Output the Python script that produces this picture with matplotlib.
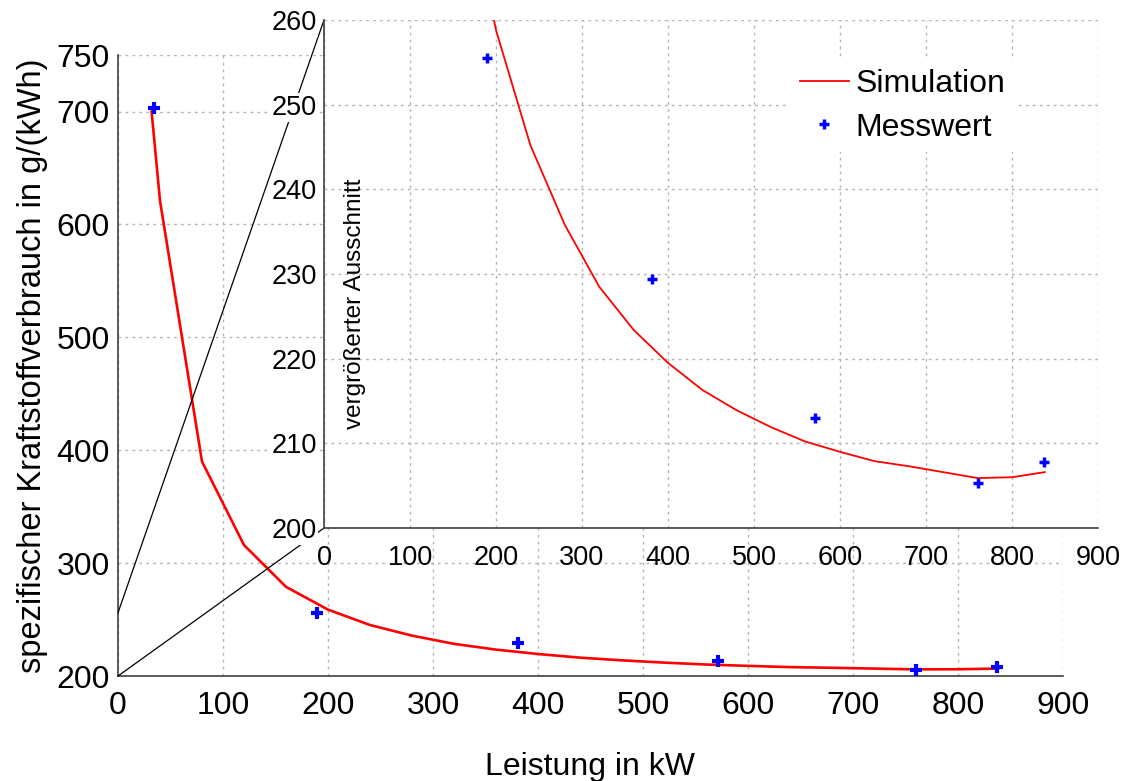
import matplotlib
matplotlib.use("Agg")
import matplotlib.pyplot as plt
from matplotlib.patches import ConnectionPatch

plt.rcParams['font.family'] = ['Liberation Sans', 'DejaVu Sans']

# Simulation (Leistung in kW, spez. Verbrauch in g/kWh)
sim_kw = [32, 40, 80, 120, 160, 200, 240, 280, 320, 360, 400, 440, 480,
          520, 560, 600, 640, 680, 720, 760, 800, 838]
sim_be = [700, 621, 390, 316, 279, 258.8, 245.2, 235.8, 228.5, 223.4, 219.5,
          216.3, 213.9, 211.9, 210.2, 209.0, 207.9, 207.3, 206.6, 205.9,
          206.0, 206.6]

# Messwerte
mess_kw = [34, 190, 381, 571, 760, 837]
mess_be = [703.5, 255.5, 229.4, 213.0, 205.3, 207.8]

main_yticks = [200, 300, 400, 500, 600, 700, 750]
inset_yticks = [200, 210, 220, 230, 240, 250, 260]
xticks = list(range(0, 1000, 100))

grid_kw = dict(color='#b4b4b4', linestyle=(0, (2, 3)), linewidth=1.0)
spine_col = '#404040'

fig = plt.figure(figsize=(11.27, 7.81), dpi=100)

# Hauptdiagramm
ax = fig.add_axes([0.1047, 0.1344, 0.8385, 0.7951])
ax.plot(sim_kw, sim_be, color='red', lw=1.9, zorder=3)
ax.plot(mess_kw, mess_be, ls='none', marker='+', ms=9, mew=3,
        color='blue', zorder=4)
ax.set_xlim(0, 900)
ax.set_ylim(200, 750)
ax.set_xticks(xticks)
ax.set_yticks(main_yticks)
ax.grid(True, **grid_kw)
for s in ['top', 'right']:
    ax.spines[s].set_visible(False)
for s in ['left', 'bottom']:
    ax.spines[s].set_color(spine_col)
    ax.spines[s].set_linewidth(1.2)
ax.tick_params(axis='both', length=0, labelsize=23)
ax.tick_params(axis='x', pad=11)
ax.tick_params(axis='y', pad=6)

fig.text(590 / 1127, 1 - 775 / 781, 'Leistung in kW', ha='center',
         va='baseline', fontsize=23)
fig.text(33 / 1127, 1 - 366 / 781, 'spezifischer Kraftstoffverbrauch in g/(kWh)',
         ha='center', va='center', rotation=90, fontsize=23.5)

# vergrößerter Ausschnitt
axi = fig.add_axes([0.2875, 0.3239, 0.6868, 0.6505], zorder=2)
axi.set_facecolor('white')
axi.plot(sim_kw, sim_be, color='red', lw=1.3, zorder=3, label='Simulation')
axi.plot(mess_kw, mess_be, ls='none', marker='+', ms=7, mew=2.5,
         color='blue', zorder=4, label='Messwert')
axi.set_xlim(0, 900)
axi.set_ylim(200, 260)
axi.set_xticks(xticks)
axi.set_yticks(inset_yticks)
axi.grid(True, **grid_kw)
for s in ['top', 'right']:
    axi.spines[s].set_visible(False)
for s in ['left', 'bottom']:
    axi.spines[s].set_color(spine_col)
    axi.spines[s].set_linewidth(1.2)
axi.tick_params(axis='both', length=0, labelsize=19.5)
axi.tick_params(axis='x', pad=12)
axi.tick_params(axis='y', pad=5)
for lab in axi.get_yticklabels():
    lab.set_bbox(dict(facecolor='white', edgecolor='none', pad=1))

leg = axi.legend(loc='upper left', bbox_to_anchor=(0.602, 0.922),
                 fontsize=23, frameon=True, fancybox=False, framealpha=1,
                 facecolor='white', edgecolor='none', borderpad=0.3,
                 labelspacing=0.42, handlelength=1.55, handletextpad=0.2,
                 borderaxespad=0)
fig.text(355 / 1127, 1 - 304 / 781, 'vergrößerter Ausschnitt', ha='center',
         va='center', rotation=90, fontsize=17.5)

# Verbindungslinien zum Ausschnitt
for y_main, y_in in [(256, 260), (200, 200)]:
    con = ConnectionPatch(xyA=(0, y_main), coordsA=ax.transData,
                          xyB=(0, y_in), coordsB=axi.transData,
                          color='black', lw=0.9, zorder=1)
    fig.add_artist(con)

fig.savefig('out.png', dpi=100)
